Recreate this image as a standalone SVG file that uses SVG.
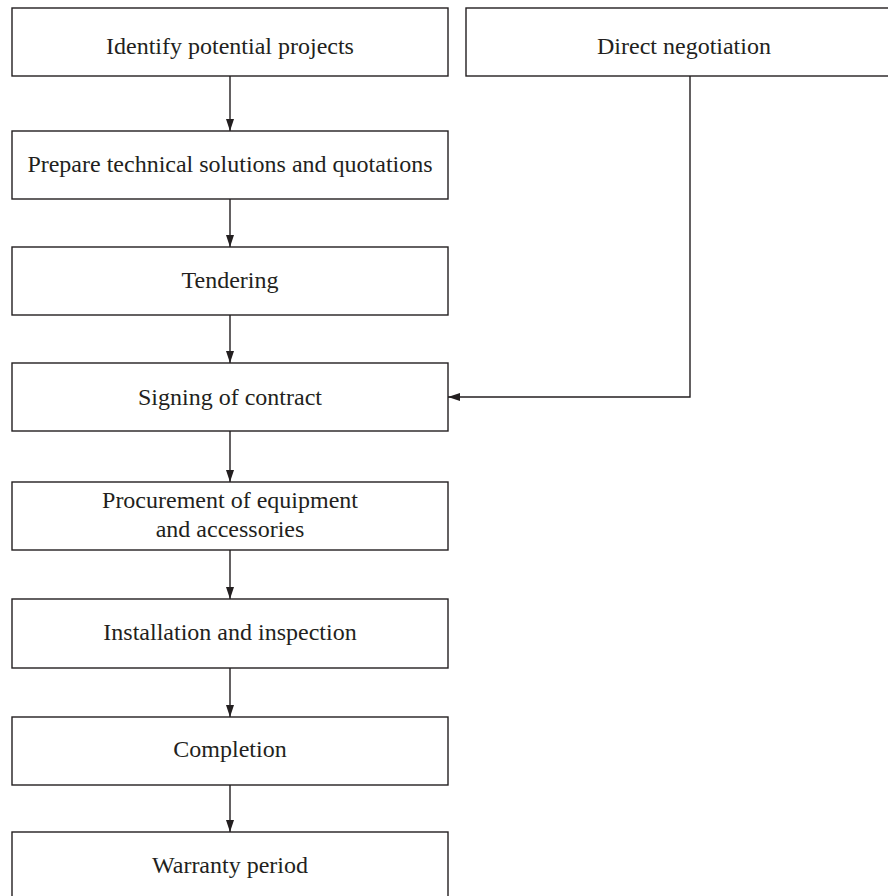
<svg xmlns="http://www.w3.org/2000/svg" width="888" height="896" viewBox="0 0 888 896">
<defs>
<style>
.box{fill:#fff;stroke:#231f20;stroke-width:1.4}
.lbl{font-family:"Liberation Serif","Times New Roman",serif;font-size:24px;fill:#231f20;text-anchor:middle}
.conn{fill:none;stroke:#231f20;stroke-width:1.4}
</style>
<marker id="ah" viewBox="0 0 12 8" refX="12" refY="4" markerWidth="12" markerHeight="8" markerUnits="userSpaceOnUse" orient="auto">
<path d="M0,0 L12,4 L0,8 Z" fill="#231f20"/>
</marker>
</defs>
<rect width="888" height="896" fill="#fff"/>
<g id="connectors">
<line class="conn" x1="230" y1="76" x2="230" y2="131" marker-end="url(#ah)"/>
<line class="conn" x1="230" y1="199" x2="230" y2="247" marker-end="url(#ah)"/>
<line class="conn" x1="230" y1="315" x2="230" y2="363" marker-end="url(#ah)"/>
<line class="conn" x1="230" y1="431" x2="230" y2="482" marker-end="url(#ah)"/>
<line class="conn" x1="230" y1="550" x2="230" y2="599" marker-end="url(#ah)"/>
<line class="conn" x1="230" y1="668" x2="230" y2="717" marker-end="url(#ah)"/>
<line class="conn" x1="230" y1="785" x2="230" y2="832" marker-end="url(#ah)"/>
<polyline class="conn" points="690,76 690,397 448,397" marker-end="url(#ah)"/>
</g>
<g id="n1"><rect class="box" x="12" y="8" width="436" height="68"/><text class="lbl" x="230" y="54">Identify potential projects</text></g>
<g id="n2"><rect class="box" x="466" y="8" width="436" height="68"/><text class="lbl" x="684" y="54">Direct negotiation</text></g>
<g id="n3"><rect class="box" x="12" y="131" width="436" height="68"/><text class="lbl" x="230" y="172">Prepare technical solutions and quotations</text></g>
<g id="n4"><rect class="box" x="12" y="247" width="436" height="68"/><text class="lbl" x="230" y="288">Tendering</text></g>
<g id="n5"><rect class="box" x="12" y="363" width="436" height="68"/><text class="lbl" x="230" y="405">Signing of contract</text></g>
<g id="n6"><rect class="box" x="12" y="482" width="436" height="68"/><text class="lbl" x="230" y="508">Procurement of equipment</text><text class="lbl" x="230" y="537">and accessories</text></g>
<g id="n7"><rect class="box" x="12" y="599" width="436" height="69"/><text class="lbl" x="230" y="640">Installation and inspection</text></g>
<g id="n8"><rect class="box" x="12" y="717" width="436" height="68"/><text class="lbl" x="230" y="757">Completion</text></g>
<g id="n9"><rect class="box" x="12" y="832" width="436" height="68"/><text class="lbl" x="230" y="873">Warranty period</text></g>
</svg>
